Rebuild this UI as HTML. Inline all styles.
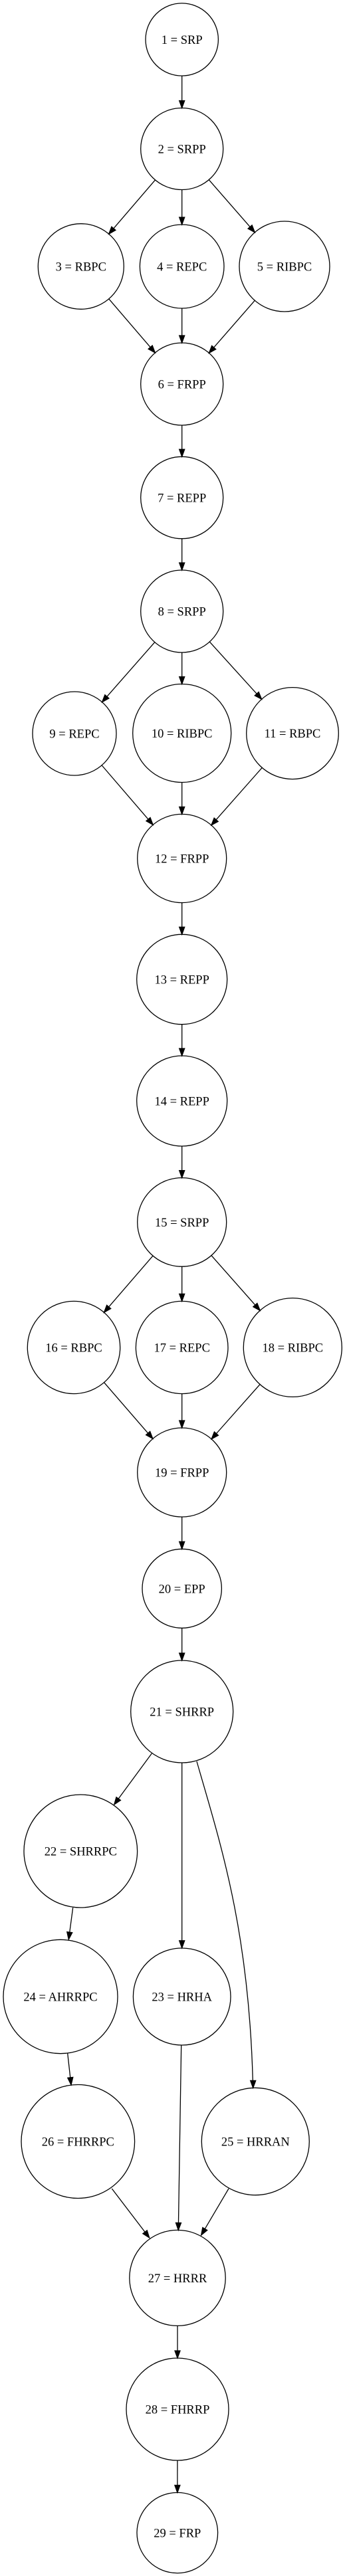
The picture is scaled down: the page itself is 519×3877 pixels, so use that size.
<!DOCTYPE html>
<html><head><meta charset="utf-8"><style>
html,body{margin:0;padding:0;background:#fff;}
svg{display:block;}
text{font-family:"Liberation Serif",serif;font-size:18.5px;fill:#000;text-anchor:middle;}
</style></head><body>
<svg id="g" width="519" height="3877" viewBox="0 0 519 3877" xmlns="http://www.w3.org/2000/svg">
<g fill="none" stroke="#000" stroke-width="1.3">
<ellipse cx="273.7" cy="59.5" rx="54.7" ry="54.6"/>
<ellipse cx="273.7" cy="224" rx="62" ry="61.5"/>
<ellipse cx="121.8" cy="401" rx="64.5" ry="64.3"/>
<ellipse cx="273.7" cy="401" rx="63.3" ry="63"/>
<ellipse cx="428" cy="401" rx="68" ry="68"/>
<ellipse cx="273.7" cy="578" rx="62" ry="62"/>
<ellipse cx="273.7" cy="749" rx="62" ry="61.7"/>
<ellipse cx="273.7" cy="920" rx="62" ry="62"/>
<ellipse cx="112" cy="1104" rx="63" ry="63"/>
<ellipse cx="273.7" cy="1103.5" rx="74" ry="74"/>
<ellipse cx="440" cy="1103.6" rx="69.3" ry="69"/>
<ellipse cx="273.7" cy="1292" rx="67" ry="66.6"/>
<ellipse cx="273.7" cy="1474" rx="68" ry="67.7"/>
<ellipse cx="273.7" cy="1657" rx="68" ry="68"/>
<ellipse cx="273.7" cy="1839.4" rx="67" ry="66.8"/>
<ellipse cx="111" cy="2028" rx="69.7" ry="69.6"/>
<ellipse cx="273.7" cy="2028" rx="69.3" ry="69.6"/>
<ellipse cx="440.3" cy="2028" rx="74" ry="74.4"/>
<ellipse cx="273.7" cy="2216" rx="67" ry="67"/>
<ellipse cx="273.7" cy="2390.8" rx="59.7" ry="59.5"/>
<ellipse cx="273.7" cy="2576" rx="77" ry="77"/>
<ellipse cx="121.3" cy="2786" rx="85.3" ry="85"/>
<ellipse cx="273.7" cy="3005" rx="73.3" ry="73"/>
<ellipse cx="91" cy="3005" rx="86" ry="85.7"/>
<ellipse cx="384.3" cy="3223" rx="81" ry="80.7"/>
<ellipse cx="117.3" cy="3223" rx="85.3" ry="85.5"/>
<ellipse cx="267" cy="3428.4" rx="72.2" ry="72"/>
<ellipse cx="267" cy="3626" rx="77" ry="77"/>
<ellipse cx="266.8" cy="3812" rx="60.8" ry="60.6"/>
</g>
<g id="edges" stroke="#000" stroke-width="1.3" fill="none"></g>
<g id="heads" fill="#000" stroke="#000" stroke-width="1.3"></g>
<g>
<text x="273.7" y="66">1 = SRP</text>
<text x="273.7" y="230.5">2 = SRPP</text>
<text x="121.8" y="407.5">3 = RBPC</text>
<text x="273.7" y="407.5">4 = REPC</text>
<text x="428" y="407.5">5 = RIBPC</text>
<text x="273.7" y="584.5">6 = FRPP</text>
<text x="273.7" y="755.5">7 = REPP</text>
<text x="273.7" y="926.5">8 = SRPP</text>
<text x="112" y="1110.5">9 = REPC</text>
<text x="273.7" y="1110">10 = RIBPC</text>
<text x="440" y="1110">11 = RBPC</text>
<text x="273.7" y="1298.5">12 = FRPP</text>
<text x="273.7" y="1480.5">13 = REPP</text>
<text x="273.7" y="1663.5">14 = REPP</text>
<text x="273.7" y="1846">15 = SRPP</text>
<text x="111" y="2034.5">16 = RBPC</text>
<text x="273.7" y="2034.5">17 = REPC</text>
<text x="440.3" y="2034.5">18 = RIBPC</text>
<text x="273.7" y="2222.5">19 = FRPP</text>
<text x="273.7" y="2397.3">20 = EPP</text>
<text x="273.7" y="2582.5">21 = SHRRP</text>
<text x="121.3" y="2792.5">22 = SHRRPC</text>
<text x="273.7" y="3011.5">23 = HRHA</text>
<text x="91" y="3011.5">24 = AHRRPC</text>
<text x="384.3" y="3229.5">25 = HRRAN</text>
<text x="117.3" y="3229.5">26 = FHRRPC</text>
<text x="267" y="3435">27 = HRRR</text>
<text x="267" y="3632.5">28 = FHRRP</text>
<text x="266.8" y="3818.5">29 = FRP</text>
</g>
</svg>
<script>
var N={1:[273.7,59.5,54.7,54.6],2:[273.7,224,62,61.5],3:[121.8,401,64.5,64.3],4:[273.7,401,63.3,63],5:[428,401,68,68],6:[273.7,578,62,62],7:[273.7,749,62,61.7],8:[273.7,920,62,62],9:[112,1104,63,63],10:[273.7,1103.5,74,74],11:[440,1103.6,69.3,69],12:[273.7,1292,67,66.6],13:[273.7,1474,68,67.7],14:[273.7,1657,68,68],15:[273.7,1839.4,67,66.8],16:[111,2028,69.7,69.6],17:[273.7,2028,69.3,69.6],18:[440.3,2028,74,74.4],19:[273.7,2216,67,67],20:[273.7,2390.8,59.7,59.5],21:[273.7,2576,77,77],22:[121.3,2786,85.3,85],23:[273.7,3005,73.3,73],24:[91,3005,86,85.7],25:[384.3,3223,81,80.7],26:[117.3,3223,85.3,85.5],27:[267,3428.4,72.2,72],28:[267,3626,77,77],29:[266.8,3812,60.8,60.6]};
function clip(a,b){var dx=b[0]-a[0],dy=b[1]-a[1];var t=1/Math.sqrt((dx/a[2])*(dx/a[2])+(dy/a[3])*(dy/a[3]));return [a[0]+dx*t,a[1]+dy*t];}
var E=document.getElementById('edges'),H=document.getElementById('heads'),ns='http://www.w3.org/2000/svg';
function line(p,q){var dx=q[0]-p[0],dy=q[1]-p[1],L=Math.sqrt(dx*dx+dy*dy),ux=dx/L,uy=dy/L;var bx=q[0]-ux*11,by=q[1]-uy*11;
var l=document.createElementNS(ns,'path');l.setAttribute('d','M'+p[0]+','+p[1]+' L'+bx+','+by);E.appendChild(l);head(q,ux,uy);}
function head(q,ux,uy){var bx=q[0]-ux*11,by=q[1]-uy*11;var h=document.createElementNS(ns,'polygon');
h.setAttribute('points',q[0]+','+q[1]+' '+(bx-uy*4)+','+(by+ux*4)+' '+(bx+uy*4)+','+(by-ux*4));H.appendChild(h);}
var S=[[1,2],[2,3],[2,4],[2,5],[3,6],[4,6],[5,6],[6,7],[7,8],[8,9],[8,10],[8,11],[9,12],[10,12],[11,12],[12,13],[13,14],[14,15],[15,16],[15,17],[15,18],[16,19],[17,19],[18,19],[19,20],[20,21],[27,28],[28,29]];
S.forEach(function(e){var a=N[e[0]],b=N[e[1]];line(clip(a,b),clip(b,a));});
line([228.3,2639],[171.7,2716]);
line([273.7,2653],[273.7,2931.8]);
line([109.7,2871],[103.3,2919]);
line([101.7,3090.5],[107,3137.8]);
line([272.7,3078],[268.3,3356.5]);
line([168.3,3294],[224.7,3368]);
line([344,3294],[302.7,3364]);
var c=document.createElementNS(ns,'path');c.setAttribute('d','M296,2651 C330,2770 374,2900 380.3,3131');E.appendChild(c);
head([380.7,3142.4],0.0,1);
</script>
</body></html>
